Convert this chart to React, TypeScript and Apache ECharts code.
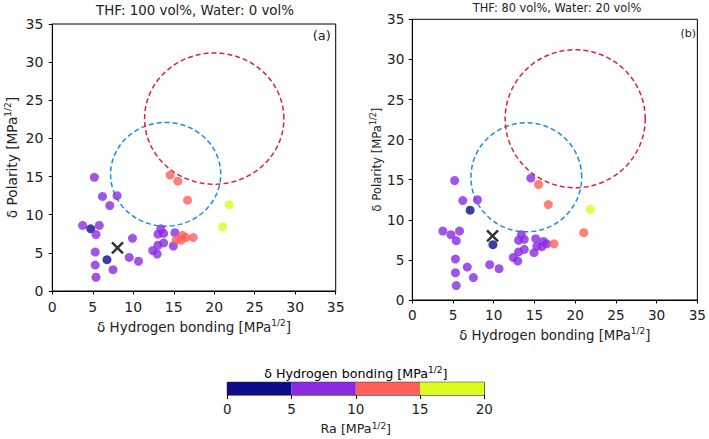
import React, { useEffect, useRef } from 'react';
import * as echarts from 'echarts';

const FONT = 'DejaVu Sans';

// Solvent Hansen parameters: δ Hydrogen bonding (x) and δ Polarity (y)
const solventH = [5.2, 6.2, 8.0, 7.1, 3.75, 4.75, 5.8, 5.4, 5.3, 5.3, 5.4, 6.75, 7.5, 9.5, 9.9, 10.65, 13.4, 13.05, 13.75, 15.15, 12.4, 12.95, 13.05, 13.75, 14.95, 15.3, 16.1, 15.9, 16.5, 17.4, 14.55, 15.5, 16.7, 21.85, 21.05];
const solventP = [14.9, 12.4, 12.5, 11.2, 8.6, 8.15, 8.6, 7.4, 5.1, 3.4, 1.8, 4.1, 2.8, 4.4, 6.9, 3.9, 8.15, 7.45, 7.55, 7.65, 5.3, 4.85, 6.0, 6.3, 5.9, 6.7, 7.3, 6.65, 7.0, 7.0, 15.2, 14.4, 11.9, 11.3, 8.4];

// Ra bin index per solvent (0: 0-5, 1: 5-10, 2: 10-15, 3: 15-20)
const raBinA = [1, 1, 1, 1, 1, 0, 1, 1, 1, 1, 1, 0, 1, 1, 1, 1, 1, 1, 1, 1, 1, 1, 1, 1, 1, 2, 2, 2, 2, 2, 2, 2, 2, 3, 3];
const raBinB = [1, 1, 1, 0, 1, 1, 1, 1, 1, 1, 1, 1, 1, 1, 0, 1, 1, 1, 1, 1, 1, 1, 1, 1, 1, 1, 1, 1, 1, 2, 1, 2, 2, 3, 2];

const binEdges = [0, 5, 10, 15, 20];
const binColors = ['#0b0b8c', '#8a2be2', '#ff5f57', '#dcfb1e'];

// Mixture (THF / water) positions
const mixA = [8.05, 5.65];
const mixB = [9.85, 8.0];

// Reference spheres: centers (δH, δP) and radii
const circleCenters = [[14.0, 15.3], [20.0, 22.6]];
const circleRadii = [6.8, 8.6];
const circleColors = ['#1e88e5', '#dc1f3c'];

const titles = ['THF: 100 vol%, Water: 0 vol%', 'THF: 80 vol%, Water: 20 vol%'];
const panelTags = ['(a)', '(b)'];
const axisTicks = { min: 0, max: 35, interval: 5 };
const cbTicks = { min: 0, max: 20, interval: 5 };

function circlePts(c: number[], r: number) {
  const pts: number[][] = [];
  for (let a = 0; a <= 360; a += 2) {
    const t = (a * Math.PI) / 180;
    pts.push([c[0] + r * Math.cos(t), c[1] + r * Math.sin(t)]);
  }
  return pts;
}

function rich(size: number) {
  return {
    n: { fontSize: size, fontFamily: FONT, color: '#222' },
    s: { fontSize: Math.round(size * 0.68), fontFamily: FONT, color: '#222', padding: [0, 0, size * 0.55, 0] },
  };
}

const hName = '{n|δ Hydrogen bonding [MPa}{s|1/2}{n|]}';
const pName = '{n|δ Polarity [MPa}{s|1/2}{n|]}';
const raName = '{n|Ra [MPa}{s|1/2}{n|]}';

function buildOption() {
  const grids = [
    { left: 52.3, top: 24, width: 283.4, height: 267 },
    { left: 412.3, top: 19.3, width: 287.7, height: 280.7 },
  ];
  const xCfg = [
    { labelSize: 14, margin: 9, nameGap: 24, nameSize: 13.5 },
    { labelSize: 13.6, margin: 8, nameGap: 22, nameSize: 13.3 },
  ];
  const yCfg = [
    { labelSize: 14, margin: 9, nameGap: 32, nameSize: 13.7 },
    { labelSize: 13.6, margin: 8, nameGap: 28, nameSize: 11.7 },
  ];

  const grid: any[] = grids.map((g) => ({
    ...g,
    show: true,
    borderColor: '#000',
    borderWidth: 1,
    backgroundColor: 'transparent',
    containLabel: false,
  }));
  grid.push({ left: 227.3, top: 382.3, width: 257, height: 12.7, show: true, borderColor: '#000', borderWidth: 1, backgroundColor: 'transparent' });

  const xAxis: any[] = [0, 1].map((i) => ({
    gridIndex: i,
    type: 'value',
    ...axisTicks,
    splitLine: { show: false },
    axisLine: { show: true, onZero: false, lineStyle: { color: '#000', width: 1 } },
    axisTick: { show: true, inside: false, length: 3.5, lineStyle: { color: '#000' } },
    axisLabel: { fontSize: xCfg[i].labelSize, fontFamily: FONT, color: '#222', margin: xCfg[i].margin },
    name: hName,
    nameLocation: 'middle',
    nameGap: xCfg[i].nameGap,
    nameTextStyle: { rich: rich(xCfg[i].nameSize) },
  }));
  xAxis.push({
    gridIndex: 2,
    type: 'value',
    ...cbTicks,
    splitLine: { show: false },
    axisLine: { show: false },
    axisTick: { show: true, inside: false, length: 4, lineStyle: { color: '#000' } },
    axisLabel: { fontSize: 13.5, fontFamily: FONT, color: '#222', margin: 7 },
    name: raName,
    nameLocation: 'middle',
    nameGap: 26,
    nameTextStyle: { rich: rich(12.7) },
  });

  const yAxis: any[] = [0, 1].map((i) => ({
    gridIndex: i,
    type: 'value',
    ...axisTicks,
    splitLine: { show: false },
    axisLine: { show: true, onZero: false, lineStyle: { color: '#000', width: 1 } },
    axisTick: { show: true, inside: false, length: 3.5, lineStyle: { color: '#000' } },
    axisLabel: { fontSize: yCfg[i].labelSize, fontFamily: FONT, color: '#222', margin: yCfg[i].margin },
    name: pName,
    nameLocation: 'middle',
    nameRotate: 90,
    nameGap: yCfg[i].nameGap,
    nameTextStyle: { rich: rich(yCfg[i].nameSize) },
  }));
  yAxis.push({ gridIndex: 2, type: 'category', data: ['Ra'], show: false });

  const series: any[] = [];
  [0, 1].forEach((p) => {
    circleCenters.forEach((c, k) => {
      series.push({
        type: 'line',
        xAxisIndex: p,
        yAxisIndex: p,
        data: circlePts(c, circleRadii[k]),
        showSymbol: false,
        symbol: 'none',
        smooth: false,
        lineStyle: { color: circleColors[k], width: 1.5, type: [5, 3] },
        z: 2,
        silent: true,
      });
    });
    const bins = p === 0 ? raBinA : raBinB;
    series.push({
      type: 'scatter',
      xAxisIndex: p,
      yAxisIndex: p,
      symbolSize: 9,
      z: 3,
      data: solventH.map((h, i) => ({
        value: [h, solventP[i]],
        itemStyle: { color: binColors[bins[i]] },
      })),
    });
    const mix = p === 0 ? mixA : mixB;
    series.push({
      type: 'scatter',
      xAxisIndex: p,
      yAxisIndex: p,
      symbol: 'path://M0 0L10 10M10 0L0 10',
      symbolSize: 11,
      z: 4,
      itemStyle: { color: 'rgba(0,0,0,0)', borderColor: '#000', borderWidth: 2.5 },
      data: [mix],
    });
  });

  binColors.forEach((col, i) => {
    series.push({
      type: 'bar',
      xAxisIndex: 2,
      yAxisIndex: 2,
      stack: 'cb',
      barWidth: '100%',
      data: [binEdges[i + 1] - binEdges[i]],
      itemStyle: { color: col },
      silent: true,
    });
  });

  const graphic: any[] = [
    { type: 'text', x: 195, y: 10, style: { text: titles[0], font: `13.4px "${FONT}"`, fill: '#222', align: 'center', verticalAlign: 'middle' } },
    { type: 'text', x: 557, y: 7.5, style: { text: titles[1], font: `11.4px "${FONT}"`, fill: '#222', align: 'center', verticalAlign: 'middle' } },
    { type: 'text', x: 321.7, y: 35, style: { text: panelTags[0], font: `13px "${FONT}"`, fill: '#222', align: 'center', verticalAlign: 'middle' } },
    { type: 'text', x: 688.3, y: 33.5, style: { text: panelTags[1], font: `11px "${FONT}"`, fill: '#222', align: 'center', verticalAlign: 'middle' } },
    {
      type: 'text',
      x: 355.8,
      y: 373,
      style: { text: hName, rich: rich(12.7), align: 'center', verticalAlign: 'middle' },
    },
  ];

  return { animation: false, backgroundColor: '#fff', grid, xAxis, yAxis, series, graphic };
}

export default function App() {
  const ref = useRef<HTMLDivElement>(null);
  useEffect(() => {
    const chart = echarts.init(ref.current!, null, { renderer: 'svg' });
    chart.setOption(buildOption() as any);
    return () => chart.dispose();
  }, []);
  return <div ref={ref} style={{ position: 'absolute', left: 0, top: 0, width: 709, height: 439 }} />;
}
